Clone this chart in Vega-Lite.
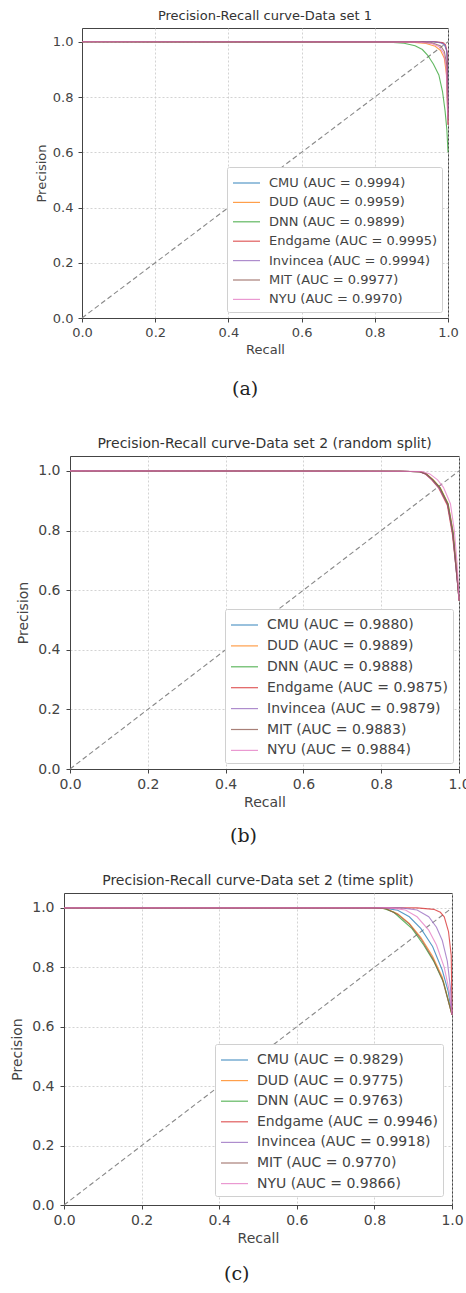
{
  "$schema": "https://vega.github.io/schema/vega-lite/v6.json",
  "background": "white",
  "padding": {"left": 0, "top": 9, "right": 0, "bottom": 0},
  "spacing": 37,
  "config": {
    "font": "DejaVu Sans",
    "view": {"stroke": "#444", "strokeWidth": 1},
    "axis": {"grid": true, "gridColor": "#c8c8c8", "gridDash": [2, 2], "gridWidth": 0.8, "domain": true, "domainColor": "#444", "domainWidth": 1, "tickColor": "#444", "tickSize": 4, "labelColor": "#444", "titleColor": "#444", "titleFontWeight": "normal", "labelFont": "DejaVu Sans", "titleFont": "DejaVu Sans", "labelFlush": false},
    "title": {"fontWeight": "normal", "color": "#333", "font": "DejaVu Sans"},
    "legend": {"fillColor": "white", "strokeColor": "#d0d0d0", "padding": 5, "cornerRadius": 2, "symbolType": "M-1.35,0H1.35", "symbolStrokeWidth": 1.2, "labelColor": "#444", "labelFont": "DejaVu Sans", "symbolSize": 400, "symbolOffset": 3.5, "labelOffset": 11.5, "labelLimit": 400, "rowPadding": 1.4, "offset": 6}
  },
  "resolve": {"scale": {"color": "independent", "x": "independent", "y": "independent"}, "legend": {"color": "independent"}},
  "datasets": {
    "a": [
      {"model": "CMU (AUC = 0.9994)", "recall": 0, "precision": 1},
      {"model": "CMU (AUC = 0.9994)", "recall": 0.96, "precision": 1},
      {"model": "CMU (AUC = 0.9994)", "recall": 0.98, "precision": 0.997},
      {"model": "CMU (AUC = 0.9994)", "recall": 0.99, "precision": 0.99},
      {"model": "CMU (AUC = 0.9994)", "recall": 0.996, "precision": 0.97},
      {"model": "CMU (AUC = 0.9994)", "recall": 0.999, "precision": 0.92},
      {"model": "CMU (AUC = 0.9994)", "recall": 1, "precision": 0.72},
      {"model": "DUD (AUC = 0.9959)", "recall": 0, "precision": 1},
      {"model": "DUD (AUC = 0.9959)", "recall": 0.9, "precision": 0.999},
      {"model": "DUD (AUC = 0.9959)", "recall": 0.94, "precision": 0.994},
      {"model": "DUD (AUC = 0.9959)", "recall": 0.965, "precision": 0.984},
      {"model": "DUD (AUC = 0.9959)", "recall": 0.98, "precision": 0.968},
      {"model": "DUD (AUC = 0.9959)", "recall": 0.99, "precision": 0.94},
      {"model": "DUD (AUC = 0.9959)", "recall": 0.996, "precision": 0.88},
      {"model": "DUD (AUC = 0.9959)", "recall": 1, "precision": 0.7},
      {"model": "DNN (AUC = 0.9899)", "recall": 0, "precision": 1},
      {"model": "DNN (AUC = 0.9899)", "recall": 0.85, "precision": 0.998},
      {"model": "DNN (AUC = 0.9899)", "recall": 0.88, "precision": 0.995},
      {"model": "DNN (AUC = 0.9899)", "recall": 0.91, "precision": 0.986},
      {"model": "DNN (AUC = 0.9899)", "recall": 0.93, "precision": 0.972},
      {"model": "DNN (AUC = 0.9899)", "recall": 0.944, "precision": 0.952},
      {"model": "DNN (AUC = 0.9899)", "recall": 0.96, "precision": 0.92},
      {"model": "DNN (AUC = 0.9899)", "recall": 0.975, "precision": 0.88},
      {"model": "DNN (AUC = 0.9899)", "recall": 0.985, "precision": 0.82},
      {"model": "DNN (AUC = 0.9899)", "recall": 0.992, "precision": 0.75},
      {"model": "DNN (AUC = 0.9899)", "recall": 0.997, "precision": 0.68},
      {"model": "DNN (AUC = 0.9899)", "recall": 1, "precision": 0.6},
      {"model": "Endgame (AUC = 0.9995)", "recall": 0, "precision": 1},
      {"model": "Endgame (AUC = 0.9995)", "recall": 0.965, "precision": 1},
      {"model": "Endgame (AUC = 0.9995)", "recall": 0.985, "precision": 0.997},
      {"model": "Endgame (AUC = 0.9995)", "recall": 0.993, "precision": 0.99},
      {"model": "Endgame (AUC = 0.9995)", "recall": 0.998, "precision": 0.96},
      {"model": "Endgame (AUC = 0.9995)", "recall": 1, "precision": 0.72},
      {"model": "Invincea (AUC = 0.9994)", "recall": 0, "precision": 1},
      {"model": "Invincea (AUC = 0.9994)", "recall": 0.96, "precision": 1},
      {"model": "Invincea (AUC = 0.9994)", "recall": 0.982, "precision": 0.996},
      {"model": "Invincea (AUC = 0.9994)", "recall": 0.992, "precision": 0.988},
      {"model": "Invincea (AUC = 0.9994)", "recall": 0.997, "precision": 0.965},
      {"model": "Invincea (AUC = 0.9994)", "recall": 1, "precision": 0.72},
      {"model": "MIT (AUC = 0.9977)", "recall": 0, "precision": 1},
      {"model": "MIT (AUC = 0.9977)", "recall": 0.93, "precision": 0.999},
      {"model": "MIT (AUC = 0.9977)", "recall": 0.96, "precision": 0.995},
      {"model": "MIT (AUC = 0.9977)", "recall": 0.98, "precision": 0.985},
      {"model": "MIT (AUC = 0.9977)", "recall": 0.99, "precision": 0.965},
      {"model": "MIT (AUC = 0.9977)", "recall": 0.996, "precision": 0.92},
      {"model": "MIT (AUC = 0.9977)", "recall": 1, "precision": 0.7},
      {"model": "NYU (AUC = 0.9970)", "recall": 0, "precision": 1},
      {"model": "NYU (AUC = 0.9970)", "recall": 0.92, "precision": 0.999},
      {"model": "NYU (AUC = 0.9970)", "recall": 0.955, "precision": 0.994},
      {"model": "NYU (AUC = 0.9970)", "recall": 0.975, "precision": 0.983},
      {"model": "NYU (AUC = 0.9970)", "recall": 0.988, "precision": 0.96},
      {"model": "NYU (AUC = 0.9970)", "recall": 0.995, "precision": 0.91},
      {"model": "NYU (AUC = 0.9970)", "recall": 1, "precision": 0.7}
    ],
    "b": [
      {"model": "CMU (AUC = 0.9880)", "recall": 0, "precision": 1},
      {"model": "CMU (AUC = 0.9880)", "recall": 0.85, "precision": 0.999},
      {"model": "CMU (AUC = 0.9880)", "recall": 0.9, "precision": 0.997},
      {"model": "CMU (AUC = 0.9880)", "recall": 0.915, "precision": 0.99},
      {"model": "CMU (AUC = 0.9880)", "recall": 0.932, "precision": 0.97},
      {"model": "CMU (AUC = 0.9880)", "recall": 0.95, "precision": 0.943},
      {"model": "CMU (AUC = 0.9880)", "recall": 0.971, "precision": 0.888},
      {"model": "CMU (AUC = 0.9880)", "recall": 0.984, "precision": 0.79},
      {"model": "CMU (AUC = 0.9880)", "recall": 0.992, "precision": 0.68},
      {"model": "CMU (AUC = 0.9880)", "recall": 0.998, "precision": 0.6},
      {"model": "CMU (AUC = 0.9880)", "recall": 1, "precision": 0.565},
      {"model": "DUD (AUC = 0.9889)", "recall": 0, "precision": 1},
      {"model": "DUD (AUC = 0.9889)", "recall": 0.85, "precision": 0.999},
      {"model": "DUD (AUC = 0.9889)", "recall": 0.902, "precision": 0.997},
      {"model": "DUD (AUC = 0.9889)", "recall": 0.917, "precision": 0.99},
      {"model": "DUD (AUC = 0.9889)", "recall": 0.934, "precision": 0.97},
      {"model": "DUD (AUC = 0.9889)", "recall": 0.952, "precision": 0.943},
      {"model": "DUD (AUC = 0.9889)", "recall": 0.972, "precision": 0.89},
      {"model": "DUD (AUC = 0.9889)", "recall": 0.985, "precision": 0.795},
      {"model": "DUD (AUC = 0.9889)", "recall": 0.993, "precision": 0.685},
      {"model": "DUD (AUC = 0.9889)", "recall": 0.998, "precision": 0.605},
      {"model": "DUD (AUC = 0.9889)", "recall": 1, "precision": 0.565},
      {"model": "DNN (AUC = 0.9888)", "recall": 0, "precision": 1},
      {"model": "DNN (AUC = 0.9888)", "recall": 0.85, "precision": 0.999},
      {"model": "DNN (AUC = 0.9888)", "recall": 0.901, "precision": 0.997},
      {"model": "DNN (AUC = 0.9888)", "recall": 0.916, "precision": 0.99},
      {"model": "DNN (AUC = 0.9888)", "recall": 0.933, "precision": 0.97},
      {"model": "DNN (AUC = 0.9888)", "recall": 0.951, "precision": 0.944},
      {"model": "DNN (AUC = 0.9888)", "recall": 0.972, "precision": 0.889},
      {"model": "DNN (AUC = 0.9888)", "recall": 0.985, "precision": 0.792},
      {"model": "DNN (AUC = 0.9888)", "recall": 0.993, "precision": 0.682},
      {"model": "DNN (AUC = 0.9888)", "recall": 0.998, "precision": 0.602},
      {"model": "DNN (AUC = 0.9888)", "recall": 1, "precision": 0.565},
      {"model": "Endgame (AUC = 0.9875)", "recall": 0, "precision": 1},
      {"model": "Endgame (AUC = 0.9875)", "recall": 0.85, "precision": 0.999},
      {"model": "Endgame (AUC = 0.9875)", "recall": 0.898, "precision": 0.997},
      {"model": "Endgame (AUC = 0.9875)", "recall": 0.913, "precision": 0.99},
      {"model": "Endgame (AUC = 0.9875)", "recall": 0.93, "precision": 0.97},
      {"model": "Endgame (AUC = 0.9875)", "recall": 0.948, "precision": 0.942},
      {"model": "Endgame (AUC = 0.9875)", "recall": 0.97, "precision": 0.885},
      {"model": "Endgame (AUC = 0.9875)", "recall": 0.983, "precision": 0.788},
      {"model": "Endgame (AUC = 0.9875)", "recall": 0.992, "precision": 0.678},
      {"model": "Endgame (AUC = 0.9875)", "recall": 0.998, "precision": 0.598},
      {"model": "Endgame (AUC = 0.9875)", "recall": 1, "precision": 0.565},
      {"model": "Invincea (AUC = 0.9879)", "recall": 0, "precision": 1},
      {"model": "Invincea (AUC = 0.9879)", "recall": 0.85, "precision": 0.999},
      {"model": "Invincea (AUC = 0.9879)", "recall": 0.899, "precision": 0.997},
      {"model": "Invincea (AUC = 0.9879)", "recall": 0.914, "precision": 0.99},
      {"model": "Invincea (AUC = 0.9879)", "recall": 0.931, "precision": 0.97},
      {"model": "Invincea (AUC = 0.9879)", "recall": 0.949, "precision": 0.943},
      {"model": "Invincea (AUC = 0.9879)", "recall": 0.971, "precision": 0.887},
      {"model": "Invincea (AUC = 0.9879)", "recall": 0.984, "precision": 0.789},
      {"model": "Invincea (AUC = 0.9879)", "recall": 0.992, "precision": 0.679},
      {"model": "Invincea (AUC = 0.9879)", "recall": 0.998, "precision": 0.6},
      {"model": "Invincea (AUC = 0.9879)", "recall": 1, "precision": 0.565},
      {"model": "MIT (AUC = 0.9883)", "recall": 0, "precision": 1},
      {"model": "MIT (AUC = 0.9883)", "recall": 0.85, "precision": 0.999},
      {"model": "MIT (AUC = 0.9883)", "recall": 0.9, "precision": 0.997},
      {"model": "MIT (AUC = 0.9883)", "recall": 0.915, "precision": 0.99},
      {"model": "MIT (AUC = 0.9883)", "recall": 0.932, "precision": 0.971},
      {"model": "MIT (AUC = 0.9883)", "recall": 0.95, "precision": 0.944},
      {"model": "MIT (AUC = 0.9883)", "recall": 0.971, "precision": 0.888},
      {"model": "MIT (AUC = 0.9883)", "recall": 0.984, "precision": 0.791},
      {"model": "MIT (AUC = 0.9883)", "recall": 0.992, "precision": 0.681},
      {"model": "MIT (AUC = 0.9883)", "recall": 0.998, "precision": 0.601},
      {"model": "MIT (AUC = 0.9883)", "recall": 1, "precision": 0.565},
      {"model": "NYU (AUC = 0.9884)", "recall": 0, "precision": 1},
      {"model": "NYU (AUC = 0.9884)", "recall": 0.86, "precision": 0.999},
      {"model": "NYU (AUC = 0.9884)", "recall": 0.905, "precision": 0.998},
      {"model": "NYU (AUC = 0.9884)", "recall": 0.925, "precision": 0.99},
      {"model": "NYU (AUC = 0.9884)", "recall": 0.945, "precision": 0.97},
      {"model": "NYU (AUC = 0.9884)", "recall": 0.96, "precision": 0.945},
      {"model": "NYU (AUC = 0.9884)", "recall": 0.978, "precision": 0.89},
      {"model": "NYU (AUC = 0.9884)", "recall": 0.988, "precision": 0.8},
      {"model": "NYU (AUC = 0.9884)", "recall": 0.995, "precision": 0.69},
      {"model": "NYU (AUC = 0.9884)", "recall": 0.999, "precision": 0.6},
      {"model": "NYU (AUC = 0.9884)", "recall": 1, "precision": 0.565}
    ],
    "c": [
      {"model": "CMU (AUC = 0.9829)", "recall": 0, "precision": 1},
      {"model": "CMU (AUC = 0.9829)", "recall": 0.82, "precision": 1},
      {"model": "CMU (AUC = 0.9829)", "recall": 0.86, "precision": 0.992},
      {"model": "CMU (AUC = 0.9829)", "recall": 0.89, "precision": 0.97},
      {"model": "CMU (AUC = 0.9829)", "recall": 0.92, "precision": 0.93},
      {"model": "CMU (AUC = 0.9829)", "recall": 0.95, "precision": 0.87},
      {"model": "CMU (AUC = 0.9829)", "recall": 0.975, "precision": 0.79},
      {"model": "CMU (AUC = 0.9829)", "recall": 0.99, "precision": 0.72},
      {"model": "CMU (AUC = 0.9829)", "recall": 1, "precision": 0.64},
      {"model": "DUD (AUC = 0.9775)", "recall": 0, "precision": 1},
      {"model": "DUD (AUC = 0.9775)", "recall": 0.8, "precision": 1},
      {"model": "DUD (AUC = 0.9775)", "recall": 0.83, "precision": 0.997},
      {"model": "DUD (AUC = 0.9775)", "recall": 0.86, "precision": 0.98},
      {"model": "DUD (AUC = 0.9775)", "recall": 0.89, "precision": 0.948},
      {"model": "DUD (AUC = 0.9775)", "recall": 0.92, "precision": 0.9},
      {"model": "DUD (AUC = 0.9775)", "recall": 0.95, "precision": 0.837},
      {"model": "DUD (AUC = 0.9775)", "recall": 0.975, "precision": 0.767},
      {"model": "DUD (AUC = 0.9775)", "recall": 1, "precision": 0.64},
      {"model": "DNN (AUC = 0.9763)", "recall": 0, "precision": 1},
      {"model": "DNN (AUC = 0.9763)", "recall": 0.8, "precision": 1},
      {"model": "DNN (AUC = 0.9763)", "recall": 0.824, "precision": 0.998},
      {"model": "DNN (AUC = 0.9763)", "recall": 0.85, "precision": 0.985},
      {"model": "DNN (AUC = 0.9763)", "recall": 0.867, "precision": 0.965},
      {"model": "DNN (AUC = 0.9763)", "recall": 0.897, "precision": 0.93},
      {"model": "DNN (AUC = 0.9763)", "recall": 0.927, "precision": 0.875},
      {"model": "DNN (AUC = 0.9763)", "recall": 0.953, "precision": 0.82},
      {"model": "DNN (AUC = 0.9763)", "recall": 0.978, "precision": 0.75},
      {"model": "DNN (AUC = 0.9763)", "recall": 1, "precision": 0.64},
      {"model": "Endgame (AUC = 0.9946)", "recall": 0, "precision": 1},
      {"model": "Endgame (AUC = 0.9946)", "recall": 0.91, "precision": 1},
      {"model": "Endgame (AUC = 0.9946)", "recall": 0.953, "precision": 0.995},
      {"model": "Endgame (AUC = 0.9946)", "recall": 0.97, "precision": 0.985},
      {"model": "Endgame (AUC = 0.9946)", "recall": 0.98, "precision": 0.97},
      {"model": "Endgame (AUC = 0.9946)", "recall": 0.991, "precision": 0.92},
      {"model": "Endgame (AUC = 0.9946)", "recall": 0.998, "precision": 0.84},
      {"model": "Endgame (AUC = 0.9946)", "recall": 1, "precision": 0.64},
      {"model": "Invincea (AUC = 0.9918)", "recall": 0, "precision": 1},
      {"model": "Invincea (AUC = 0.9918)", "recall": 0.87, "precision": 1},
      {"model": "Invincea (AUC = 0.9918)", "recall": 0.91, "precision": 0.993},
      {"model": "Invincea (AUC = 0.9918)", "recall": 0.94, "precision": 0.97},
      {"model": "Invincea (AUC = 0.9918)", "recall": 0.96, "precision": 0.935},
      {"model": "Invincea (AUC = 0.9918)", "recall": 0.975, "precision": 0.89},
      {"model": "Invincea (AUC = 0.9918)", "recall": 0.988, "precision": 0.82},
      {"model": "Invincea (AUC = 0.9918)", "recall": 0.996, "precision": 0.73},
      {"model": "Invincea (AUC = 0.9918)", "recall": 1, "precision": 0.64},
      {"model": "MIT (AUC = 0.9770)", "recall": 0, "precision": 1},
      {"model": "MIT (AUC = 0.9770)", "recall": 0.8, "precision": 1},
      {"model": "MIT (AUC = 0.9770)", "recall": 0.83, "precision": 0.997},
      {"model": "MIT (AUC = 0.9770)", "recall": 0.86, "precision": 0.978},
      {"model": "MIT (AUC = 0.9770)", "recall": 0.89, "precision": 0.945},
      {"model": "MIT (AUC = 0.9770)", "recall": 0.92, "precision": 0.895},
      {"model": "MIT (AUC = 0.9770)", "recall": 0.95, "precision": 0.83},
      {"model": "MIT (AUC = 0.9770)", "recall": 0.975, "precision": 0.76},
      {"model": "MIT (AUC = 0.9770)", "recall": 1, "precision": 0.64},
      {"model": "NYU (AUC = 0.9866)", "recall": 0, "precision": 1},
      {"model": "NYU (AUC = 0.9866)", "recall": 0.84, "precision": 1},
      {"model": "NYU (AUC = 0.9866)", "recall": 0.88, "precision": 0.993},
      {"model": "NYU (AUC = 0.9866)", "recall": 0.91, "precision": 0.97},
      {"model": "NYU (AUC = 0.9866)", "recall": 0.94, "precision": 0.925},
      {"model": "NYU (AUC = 0.9866)", "recall": 0.96, "precision": 0.875},
      {"model": "NYU (AUC = 0.9866)", "recall": 0.98, "precision": 0.8},
      {"model": "NYU (AUC = 0.9866)", "recall": 0.993, "precision": 0.72},
      {"model": "NYU (AUC = 0.9866)", "recall": 1, "precision": 0.64}
    ],
    "diag": [
      {"recall": 0, "precision": 0},
      {"recall": 1, "precision": 1}
    ]
  },
  "vconcat": [
    {
      "title": {"text": "(a)", "orient": "bottom", "font": "DejaVu Serif", "fontSize": 19, "color": "#222", "anchor": "start", "dx": 232, "offset": 23},
      "spacing": 0,
      "resolve": {"scale": {"color": "independent", "x": "independent", "y": "independent"}, "legend": {"color": "independent"}},
      "hconcat": [
        {"width": 34, "height": 10, "view": {"stroke": null}, "data": {"values": []}, "mark": {"type": "point", "opacity": 0}},
        {
          "width": 366, "height": 290,
          "title": {"text": "Precision-Recall curve-Data set 1", "fontSize": 13, "offset": 5},
          "encoding": {
            "x": {"field": "recall", "type": "quantitative", "scale": {"domain": [0, 1], "nice": false, "zero": false}, "axis": {"title": "Recall", "values": [0, 0.2, 0.4, 0.6, 0.8, 1.0], "format": ".1f", "labelFontSize": 13, "titleFontSize": 13, "labelPadding": 4, "titlePadding": 4}},
            "y": {"field": "precision", "type": "quantitative", "scale": {"domain": [0, 1.05], "nice": false, "zero": false}, "axis": {"title": "Precision", "values": [0, 0.2, 0.4, 0.6, 0.8, 1.0], "format": ".1f", "labelFontSize": 13, "titleFontSize": 13, "labelPadding": 5, "titlePadding": 4}}
          },
          "layer": [
            {"data": {"name": "diag"}, "mark": {"type": "line", "color": "#888", "strokeDash": [5, 3], "strokeWidth": 1.1}},
            {
              "data": {"name": "a"},
              "mark": {"type": "line", "strokeWidth": 1.1, "opacity": 0.75},
              "encoding": {
                "color": {"field": "model", "type": "nominal",
                  "scale": {"domain": ["CMU (AUC = 0.9994)", "DUD (AUC = 0.9959)", "DNN (AUC = 0.9899)", "Endgame (AUC = 0.9995)", "Invincea (AUC = 0.9994)", "MIT (AUC = 0.9977)", "NYU (AUC = 0.9970)"],
                    "range": ["#1f77b4", "#ff7f0e", "#2ca02c", "#d62728", "#9467bd", "#8c564b", "#e377c2"]},
                  "legend": {"title": null, "orient": "bottom-right", "labelFontSize": 13, "rowPadding": 1.4, "offset": 6}}
              }
            }
          ]
        }
      ]
    },
    {
      "spacing": 27,
      "resolve": {"scale": {"color": "independent", "x": "independent", "y": "independent"}, "legend": {"color": "independent"}},
      "vconcat": [
        {
          "title": {"text": "(b)", "orient": "bottom", "font": "DejaVu Serif", "fontSize": 19, "color": "#222", "anchor": "start", "dx": 230, "offset": 17},
          "spacing": 0,
          "resolve": {"scale": {"color": "independent", "x": "independent", "y": "independent"}, "legend": {"color": "independent"}},
          "hconcat": [
            {"width": 16, "height": 10, "view": {"stroke": null}, "data": {"values": []}, "mark": {"type": "point", "opacity": 0}},
            {
              "width": 389, "height": 313,
              "title": {"text": "Precision-Recall curve-Data set 2 (random split)", "fontSize": 14, "offset": 5},
              "encoding": {
                "x": {"field": "recall", "type": "quantitative", "scale": {"domain": [0, 1], "nice": false, "zero": false}, "axis": {"title": "Recall", "values": [0, 0.2, 0.4, 0.6, 0.8, 1.0], "format": ".1f", "labelFontSize": 14, "titleFontSize": 14, "labelPadding": 4, "titlePadding": 4}},
                "y": {"field": "precision", "type": "quantitative", "scale": {"domain": [0, 1.05], "nice": false, "zero": false}, "axis": {"title": "Precision", "values": [0, 0.2, 0.4, 0.6, 0.8, 1.0], "format": ".1f", "labelFontSize": 14, "titleFontSize": 14, "labelPadding": 6, "titlePadding": 7}}
              },
              "layer": [
                {"data": {"name": "diag"}, "mark": {"type": "line", "color": "#888", "strokeDash": [5, 3], "strokeWidth": 1.1}},
                {
                  "data": {"name": "b"},
                  "mark": {"type": "line", "strokeWidth": 1.1, "opacity": 0.75},
                  "encoding": {
                    "color": {"field": "model", "type": "nominal",
                      "scale": {"domain": ["CMU (AUC = 0.9880)", "DUD (AUC = 0.9889)", "DNN (AUC = 0.9888)", "Endgame (AUC = 0.9875)", "Invincea (AUC = 0.9879)", "MIT (AUC = 0.9883)", "NYU (AUC = 0.9884)"],
                        "range": ["#1f77b4", "#ff7f0e", "#2ca02c", "#d62728", "#9467bd", "#8c564b", "#e377c2"]},
                      "legend": {"title": null, "orient": "bottom-right", "labelFontSize": 14, "rowPadding": 2.9, "offset": 6}}
                  }
                }
              ]
            }
          ]
        },
        {
          "title": {"text": "(c)", "orient": "bottom", "font": "DejaVu Serif", "fontSize": 19, "color": "#222", "anchor": "start", "dx": 224, "offset": 19},
          "spacing": 0,
          "resolve": {"scale": {"color": "independent", "x": "independent", "y": "independent"}, "legend": {"color": "independent"}},
          "hconcat": [
            {"width": 10, "height": 10, "view": {"stroke": null}, "data": {"values": []}, "mark": {"type": "point", "opacity": 0}},
            {
              "width": 388, "height": 312,
              "title": {"text": "Precision-Recall curve-Data set 2 (time split)", "fontSize": 14, "offset": 5},
              "encoding": {
                "x": {"field": "recall", "type": "quantitative", "scale": {"domain": [0, 1], "nice": false, "zero": false}, "axis": {"title": "Recall", "values": [0, 0.2, 0.4, 0.6, 0.8, 1.0], "format": ".1f", "labelFontSize": 14, "titleFontSize": 14, "labelPadding": 4, "titlePadding": 4}},
                "y": {"field": "precision", "type": "quantitative", "scale": {"domain": [0, 1.05], "nice": false, "zero": false}, "axis": {"title": "Precision", "values": [0, 0.2, 0.4, 0.6, 0.8, 1.0], "format": ".1f", "labelFontSize": 14, "titleFontSize": 14, "labelPadding": 6, "titlePadding": 7}}
              },
              "layer": [
                {"data": {"name": "diag"}, "mark": {"type": "line", "color": "#888", "strokeDash": [5, 3], "strokeWidth": 1.1}},
                {
                  "data": {"name": "c"},
                  "mark": {"type": "line", "strokeWidth": 1.1, "opacity": 0.75},
                  "encoding": {
                    "color": {"field": "model", "type": "nominal",
                      "scale": {"domain": ["CMU (AUC = 0.9829)", "DUD (AUC = 0.9775)", "DNN (AUC = 0.9763)", "Endgame (AUC = 0.9946)", "Invincea (AUC = 0.9918)", "MIT (AUC = 0.9770)", "NYU (AUC = 0.9866)"],
                        "range": ["#1f77b4", "#ff7f0e", "#2ca02c", "#d62728", "#9467bd", "#8c564b", "#e377c2"]},
                      "legend": {"title": null, "orient": "bottom-right", "labelFontSize": 14, "rowPadding": 2.6, "offset": 9}}
                  }
                }
              ]
            }
          ]
        }
      ]
    }
  ]
}
